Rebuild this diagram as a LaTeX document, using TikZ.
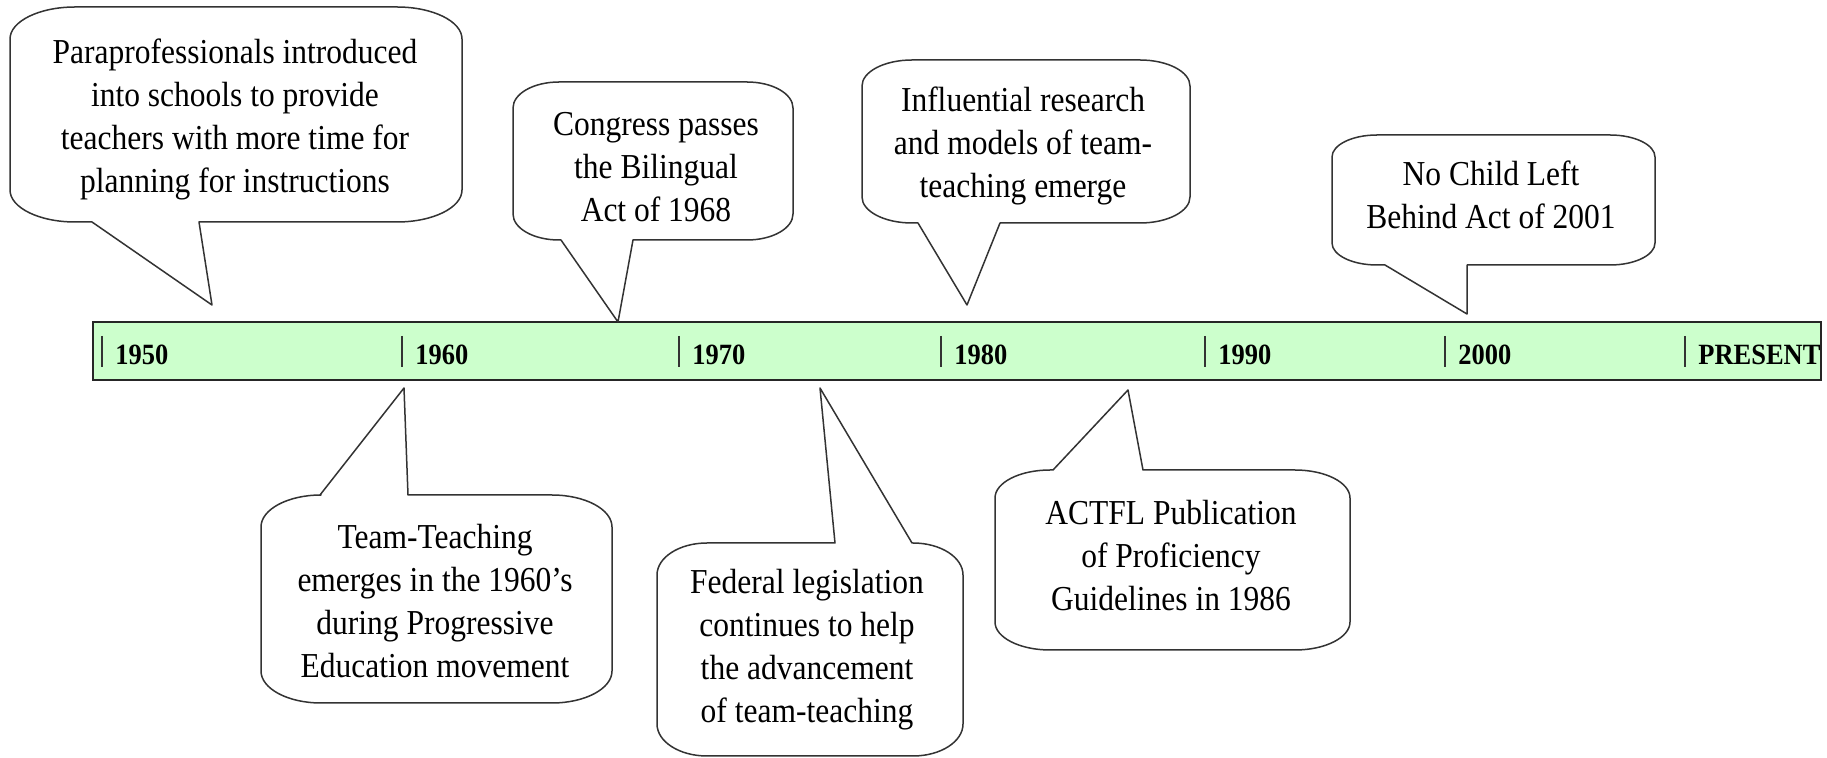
\documentclass[tikz,border=0pt]{standalone}
\usepackage{fontspec}
\setmainfont{Liberation Serif}[FakeStretch=0.9]
\definecolor{barfill}{HTML}{CCFFCC}
\definecolor{bordergray}{HTML}{333333}
\definecolor{tickgray}{HTML}{333333}
\tikzset{
  bubble/.style={draw=bordergray, line width=0.75pt, fill=white, line join=round},
  bubbletext/.style={align=center, inner sep=0pt, font=\fontsize{17.5}{21.5}\selectfont},
  yearlabel/.style={anchor=base west, inner sep=0pt, font=\fontsize{14.7}{16}\selectfont\bfseries},
  tickline/.style={line width=0.75pt, draw=tickgray},
  timebar/.style={draw=black!85, line width=1pt, fill=barfill},
}
% L T R B rx ry a1 a2 tip
\newcommand\topcallout[9]{%
  \draw[bubble] (#1,#2+#6) .. controls (#1,#2+0.448*#6) and (#1+0.448*#5,#2) .. (#1+#5,#2)
   -- (#3-#5,#2) .. controls (#3-0.448*#5,#2) and (#3,#2+0.448*#6) .. (#3,#2+#6)
   -- (#3,#4-#6) .. controls (#3,#4-0.448*#6) and (#3-0.448*#5,#4) .. (#3-#5,#4)
   -- (#8,#4) -- (#9) -- (#7,#4)
   -- (#1+#5,#4) .. controls (#1+0.448*#5,#4) and (#1,#4-0.448*#6) .. (#1,#4-#6) -- cycle;}
\newcommand\botcallout[9]{%
  \draw[bubble] (#1,#2+#6) .. controls (#1,#2+0.448*#6) and (#1+0.448*#5,#2) .. (#1+#5,#2)
   -- (#7,#2) -- (#9) -- (#8,#2)
   -- (#3-#5,#2) .. controls (#3-0.448*#5,#2) and (#3,#2+0.448*#6) .. (#3,#2+#6)
   -- (#3,#4-#6) .. controls (#3,#4-0.448*#6) and (#3-0.448*#5,#4) .. (#3-#5,#4)
   -- (#1+#5,#4) .. controls (#1+0.448*#5,#4) and (#1,#4-0.448*#6) .. (#1,#4-#6) -- cycle;}
\begin{document}
\begin{tikzpicture}[x=0.5pt,y=-0.5pt]
\useasboundingbox (0,0) rectangle (1827,758);
% timeline bar
\node[timebar, rectangle, inner sep=0pt, minimum width=864pt, minimum height=29pt] (bar) at (957,351) {};
\foreach \tx/\lab/\nm in {102/1950/y1950, 402/1960/y1960, 679/1970/y1970, 941/1980/y1980, 1205/1990/y1990, 1445/2000/y2000, 1685/PRESENT/ypresent}{
  \coordinate (\nm-top) at (\tx,336);
  \coordinate (\nm-bot) at (\tx,367);
  \draw[tickline] (\nm-top) -- (\nm-bot);
  \node[yearlabel] (\nm) at (\tx+13,365) {\lab};
}
% tips
\coordinate (tipPara) at (212,305);
\coordinate (tipCong) at (618,322);
\coordinate (tipInfl) at (967,305);
\coordinate (tipNCLB) at (1467,314);
\coordinate (tipTeam) at (404,388);
\coordinate (tipFed) at (820,388);
\coordinate (tipACTFL) at (1128,390);
% callouts
\topcallout{10}{7}{462}{222}{65}{32}{92}{199}{tipPara}
\topcallout{513}{82}{793}{240}{46}{26}{561}{633}{tipCong}
\topcallout{862}{60}{1190}{223}{50}{26}{918}{1000}{tipInfl}
\topcallout{1332}{135}{1655}{265}{45}{22}{1385}{1467}{tipNCLB}
\botcallout{261}{495}{612}{703}{60}{32}{320}{408}{tipTeam}
\botcallout{657}{543}{963}{756}{50}{32}{835}{912}{tipFed}
\botcallout{995}{470}{1350}{650}{55}{28}{1053}{1143}{tipACTFL}
% texts
\node[bubbletext] (para) at (235,119) {Paraprofessionals introduced\\into schools to provide\\teachers with more time for\\planning for instructions};
\node[bubbletext] (cong) at (656,167) {Congress passes\\the Bilingual\\Act of 1968};
\node[bubbletext] (infl) at (1023,146) {Influential research\\and models of team-\\teaching emerge};
\node[bubbletext] (nclb) at (1491,195) {No Child Left\\Behind Act of 2001};
\node[bubbletext] (team) at (435,601) {Team-Teaching\\emerges in the 1960’s\\during Progressive\\Education movement};
\node[bubbletext] (fed) at (807,650) {Federal legislation\\continues to help\\the advancement\\of team-teaching};
\node[bubbletext] (actfl) at (1171,556) {ACTFL Publication\\of Proficiency\\Guidelines in 1986};
\end{tikzpicture}
\end{document}
